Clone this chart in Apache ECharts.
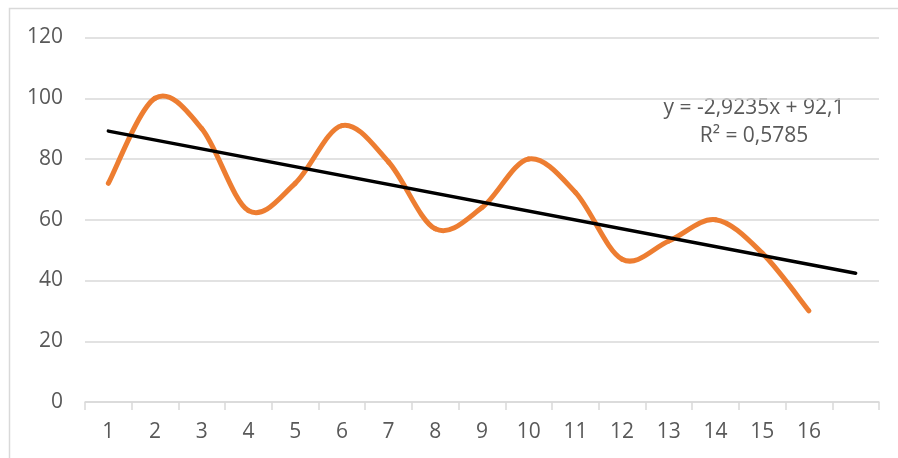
<!DOCTYPE html>
<html>
<head>
<meta charset="utf-8">
<style>
  html, body { margin: 0; padding: 0; background: #fff; }
  #chart { width: 898px; height: 458px; }
</style>
<script src="https://cdn.jsdelivr.net/npm/echarts@6/dist/echarts.min.js"></script>
</head>
<body>
<div id="chart"></div>
<script>
// Period numbers along the x axis (one extra slot for the trend forecast)
const categories = ['1','2','3','4','5','6','7','8','9','10','11','12','13','14','15','16'];
const forecastSlots = 1;
// Observed values per period
const values = [72, 100, 90, 63, 72, 91, 79, 57, 64, 80, 69, 47, 53, 60, 49, 30];
// Value axis ticks
const yTicks = [0, 20, 40, 60, 80, 100, 120];

// Least-squares linear trend over x = 1..n
function linearFit(ys) {
  const n = ys.length;
  let sx = 0, sy = 0, sxx = 0, sxy = 0;
  ys.forEach((y, i) => { const x = i + 1; sx += x; sy += y; sxx += x * x; sxy += x * y; });
  const slope = (n * sxy - sx * sy) / (n * sxx - sx * sx);
  const intercept = (sy - slope * sx) / n;
  const mean = sy / n;
  let ssTot = 0, ssRes = 0;
  ys.forEach((y, i) => {
    const f = slope * (i + 1) + intercept;
    ssTot += (y - mean) ** 2; ssRes += (y - f) ** 2;
  });
  return { slope, intercept, r2: 1 - ssRes / ssTot };
}
const fit = linearFit(values);
const axisCats = categories.concat(Array(forecastSlots).fill(''));
const lastIdx = axisCats.length - 1;
const trendData = [
  [0, fit.slope * 1 + fit.intercept],
  [lastIdx, fit.slope * (lastIdx + 1) + fit.intercept]
];
const fmt = (v, d) => v.toFixed(d).replace('.', ',');
const eqText = 'y = ' + fmt(fit.slope, 4) + 'x + ' + fmt(fit.intercept, 1);
const r2Text = 'R² = ' + fmt(fit.r2, 4);

const FONT = 'Open Sans';
const LABEL_SIZE = 21;
const ORANGE = '#ED7D31';

// Smoothed line: one cubic Bezier per pair of neighbouring points,
// control points taken from the neighbours (Catmull-Rom style, 1/6 tension).
function renderSmoothSegment(params, api) {
  const i = params.dataIndex;
  const n = values.length;
  if (i >= n - 1) return null;
  const pt = k => {
    const j = Math.max(0, Math.min(n - 1, k));
    return api.coord([j, values[j]]);
  };
  const p0 = pt(i - 1), p1 = pt(i), p2 = pt(i + 1), p3 = pt(i + 2);
  return {
    type: 'bezierCurve',
    shape: {
      x1: p1[0], y1: p1[1],
      x2: p2[0], y2: p2[1],
      cpx1: p1[0] + (p2[0] - p0[0]) / 6, cpy1: p1[1] + (p2[1] - p0[1]) / 6,
      cpx2: p2[0] - (p3[0] - p1[0]) / 6, cpy2: p2[1] - (p3[1] - p1[1]) / 6
    },
    style: { stroke: ORANGE, lineWidth: 5, fill: 'none', lineCap: 'round', lineJoin: 'round' }
  };
}

const chart = echarts.init(document.getElementById('chart'), null, { renderer: 'canvas' });
chart.setOption({
  animation: false,
  backgroundColor: '#ffffff',
  textStyle: { fontFamily: FONT },
  grid: { left: 85, right: 19, top: 37.5, bottom: 56, containLabel: false },
  xAxis: {
    type: 'category',
    data: axisCats,
    boundaryGap: true,
    axisLine: { show: true, lineStyle: { color: '#d9d9d9', width: 1.5 } },
    axisTick: { show: true, length: 8, lineStyle: { color: '#d9d9d9', width: 1.5 } },
    axisLabel: { color: '#595959', fontSize: LABEL_SIZE, fontFamily: FONT, margin: 20 },
    splitLine: { show: false }
  },
  yAxis: {
    type: 'value',
    min: yTicks[0],
    max: yTicks[yTicks.length - 1],
    interval: yTicks[1] - yTicks[0],
    axisLine: { show: false },
    axisTick: { show: false },
    axisLabel: { color: '#595959', fontSize: LABEL_SIZE, fontFamily: FONT, margin: 22 },
    splitLine: { show: true, lineStyle: { color: '#d9d9d9', width: 1.5 } }
  },
  series: [
    {
      type: 'custom',
      data: values.map((v, i) => [i, v]),
      encode: { x: 0, y: 1 },
      renderItem: renderSmoothSegment,
      clip: false,
      z: 2
    },
    {
      type: 'line',
      data: trendData,
      showSymbol: false,
      lineStyle: { color: '#000000', width: 3.5, cap: 'round' },
      z: 3
    }
  ],
  graphic: [
    {
      type: 'rect',
      shape: { x: 9.5, y: 8.5, width: 1000, height: 1000 },
      style: { fill: 'none', stroke: '#d9d9d9', lineWidth: 1.5 },
      silent: true, z: -1
    },
    {
      type: 'text',
      x: 754, y: 108,
      style: { text: eqText, align: 'center', verticalAlign: 'middle',
        fill: '#595959', font: LABEL_SIZE + 'px "' + FONT + '"' },
      silent: true
    },
    {
      type: 'text',
      x: 754, y: 136,
      style: { text: r2Text, align: 'center', verticalAlign: 'middle',
        fill: '#595959', font: LABEL_SIZE + 'px "' + FONT + '"' },
      silent: true
    }
  ]
});
</script>
</body>
</html>
